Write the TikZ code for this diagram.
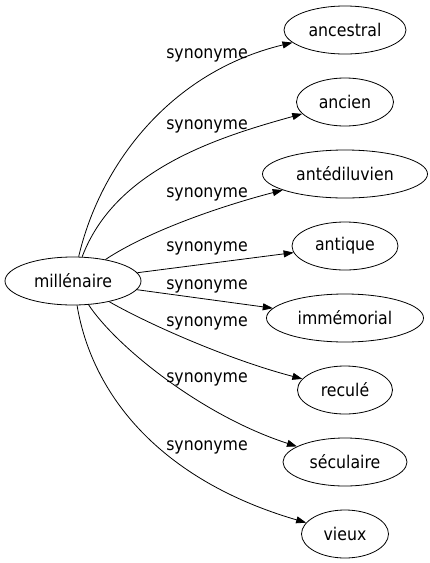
\documentclass[tikz,border=0pt]{standalone}
\usepackage{fontspec}
\setmainfont{DejaVu Sans Condensed}
\usetikzlibrary{arrows.meta, shapes.geometric, positioning}

\begin{document}
\begin{tikzpicture}[x=1pt, y=-1pt, node distance=72pt, on grid,
  word/.style={ellipse, draw, line width=0.8pt, inner sep=0pt, minimum height=48pt, font=\fontsize{17.5}{20}\selectfont},
  syn/.style={-{Triangle[length=10pt, width=7pt]}, line width=0.8pt},
  lbl/.style={anchor=base, font=\fontsize{17.5}{20}\selectfont}]

\useasboundingbox (0,0) rectangle (430,563);

\node[word, minimum width=136pt] (mil) at (73,281) {millénaire};
\node[word, minimum width=122pt] (ancestral) at (345,30) {ancestral};
\node[word, minimum width=97pt, below=of ancestral] (ancien) {ancien};
\node[word, minimum width=165pt, below=of ancien] (antediluvien) {antédiluvien};
\node[word, minimum width=106pt, below=of antediluvien] (antique) {antique};
\node[word, minimum width=157pt, below=of antique] (immemorial) {immémorial};
\node[word, minimum width=95pt, below=of immemorial] (recule) {reculé};
\node[word, minimum width=124pt, below=of recule] (seculaire) {séculaire};
\node[word, minimum width=87pt, below=of seculaire] (vieux) {vieux};

\node[lbl] (s1) at (207,58) {synonyme};
\node[lbl] (s2) at (207,129) {synonyme};
\node[lbl] (s3) at (207,197) {synonyme};
\node[lbl] (s4) at (207,251) {synonyme};
\node[lbl] (s5) at (207,289) {synonyme};
\node[lbl] (s6) at (207,326) {synonyme};
\node[lbl] (s7) at (207,382) {synonyme};
\node[lbl] (s8) at (207,450) {synonyme};

\draw[syn] (mil) .. controls (100,165) and (170,72) .. (ancestral);
\draw[syn] (mil) .. controls (115,170) and (215,138) .. (ancien);
\draw[syn] (mil) .. controls (150,230) and (225,205) .. (antediluvien);
\draw[syn] (mil) -- (antique);
\draw[syn] (mil) -- (immemorial);
\draw[syn] (mil) .. controls (150,325) and (230,360) .. (recule);
\draw[syn] (mil) .. controls (115,345) and (200,415) .. (seculaire);
\draw[syn] (mil) .. controls (92,395) and (160,480) .. (vieux);

\end{tikzpicture}
\end{document}
